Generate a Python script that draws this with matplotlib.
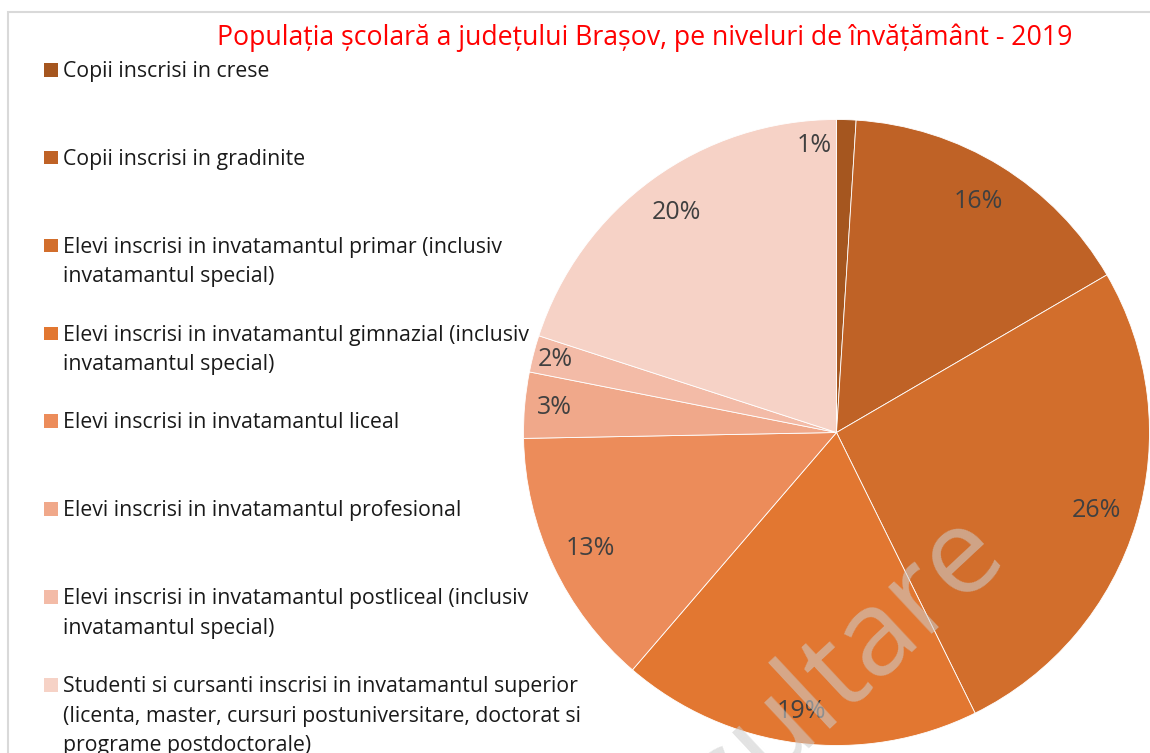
import matplotlib
matplotlib.use("Agg")
import matplotlib.pyplot as plt
from matplotlib.patches import Rectangle
import numpy as np

# ---- data ----
categories = [
    "Copii inscrisi in crese",
    "Copii inscrisi in gradinite",
    "Elevi inscrisi in invatamantul primar (inclusiv\ninvatamantul special)",
    "Elevi inscrisi in invatamantul gimnazial (inclusiv\ninvatamantul special)",
    "Elevi inscrisi in invatamantul liceal",
    "Elevi inscrisi in invatamantul profesional",
    "Elevi inscrisi in invatamantul postliceal (inclusiv\ninvatamantul special)",
    "Studenti si cursanti inscrisi in invatamantul superior\n(licenta, master, cursuri postuniversitare, doctorat si\nprograme postdoctorale)",
]
shares = [1.0, 15.6, 26.1, 18.6, 13.4, 3.4, 1.9, 20.0]
colors = ["#A5561F", "#BF6226", "#D26E2C", "#E27731",
          "#EC8C5A", "#F0A88A", "#F3BBA7", "#F6D2C6"]
title = "Populația școlară a județului Brașov, pe niveluri de învățământ - 2019"
watermark = "Consultare"

# ---- figure ----
W, H = 1150, 753
fig = plt.figure(figsize=(W / 100, H / 100), dpi=100)
plt.rcParams['font.family'] = ['Open Sans', 'DejaVu Sans']

def fx(px):
    return px / W

def fy(py):
    return 1 - py / H

# frame
fig.patches.append(Rectangle((fx(8), fy(H + 20)), fx(W + 20), (H + 8) / H,
                             transform=fig.transFigure, fill=False,
                             edgecolor="#D9D9D9", linewidth=1.5))

# pie axes
cx, cy, r = 836.5, 432.5, 313
ax = fig.add_axes([fx(cx - r), fy(cy + r), 2 * r / W, 2 * r / H])
wedges, texts, autotexts = ax.pie(
    shares, colors=colors, startangle=90, counterclock=False,
    autopct=lambda p: f"{p:.0f}%", pctdistance=0.868,
    wedgeprops=dict(edgecolor="white", linewidth=0.6),
    textprops=dict(color="#404040", fontsize=18))
ax.set_xlim(-1, 1)
ax.set_ylim(-1, 1)
ax.set_aspect("equal")
ax.axis("off")

label_radius = [0.917, 0.866, 0.866, 0.897, 0.87, 0.905, 0.927, 0.87]
for i, (w, t) in enumerate(zip(wedges, autotexts)):
    if i == 0:
        ang = np.deg2rad(w.theta2)
        t.set_position((label_radius[i] * np.cos(ang) - 0.015, label_radius[i] * np.sin(ang)))
        t.set_ha("right")
    else:
        ang = np.deg2rad((w.theta1 + w.theta2) / 2)
        t.set_position((label_radius[i] * np.cos(ang), label_radius[i] * np.sin(ang)))

# title
fig.text(fx(645), fy(38), title, color="#FF0000", fontsize=19.2,
         ha="center", va="center")

# legend
for i, (lab, col) in enumerate(zip(categories, colors)):
    yc = 70 + 87.86 * i
    fig.patches.append(Rectangle((fx(44), fy(yc + 6.5)), fx(13.5), 13.5 / H,
                                 transform=fig.transFigure, facecolor=col,
                                 edgecolor="none"))
    fig.text(fx(63), fy(yc - 9), lab, fontsize=15.3, color="#1A1A1A",
             ha="left", va="top", linespacing=1.54)

# watermark
fig.text(fx(1008), fy(556), watermark, fontsize=86,
         color=(205 / 255, 205 / 255, 205 / 255, 0.57),
         rotation=43, rotation_mode="anchor", ha="right", va="baseline", zorder=10)

fig.savefig("out.png", dpi=100)
